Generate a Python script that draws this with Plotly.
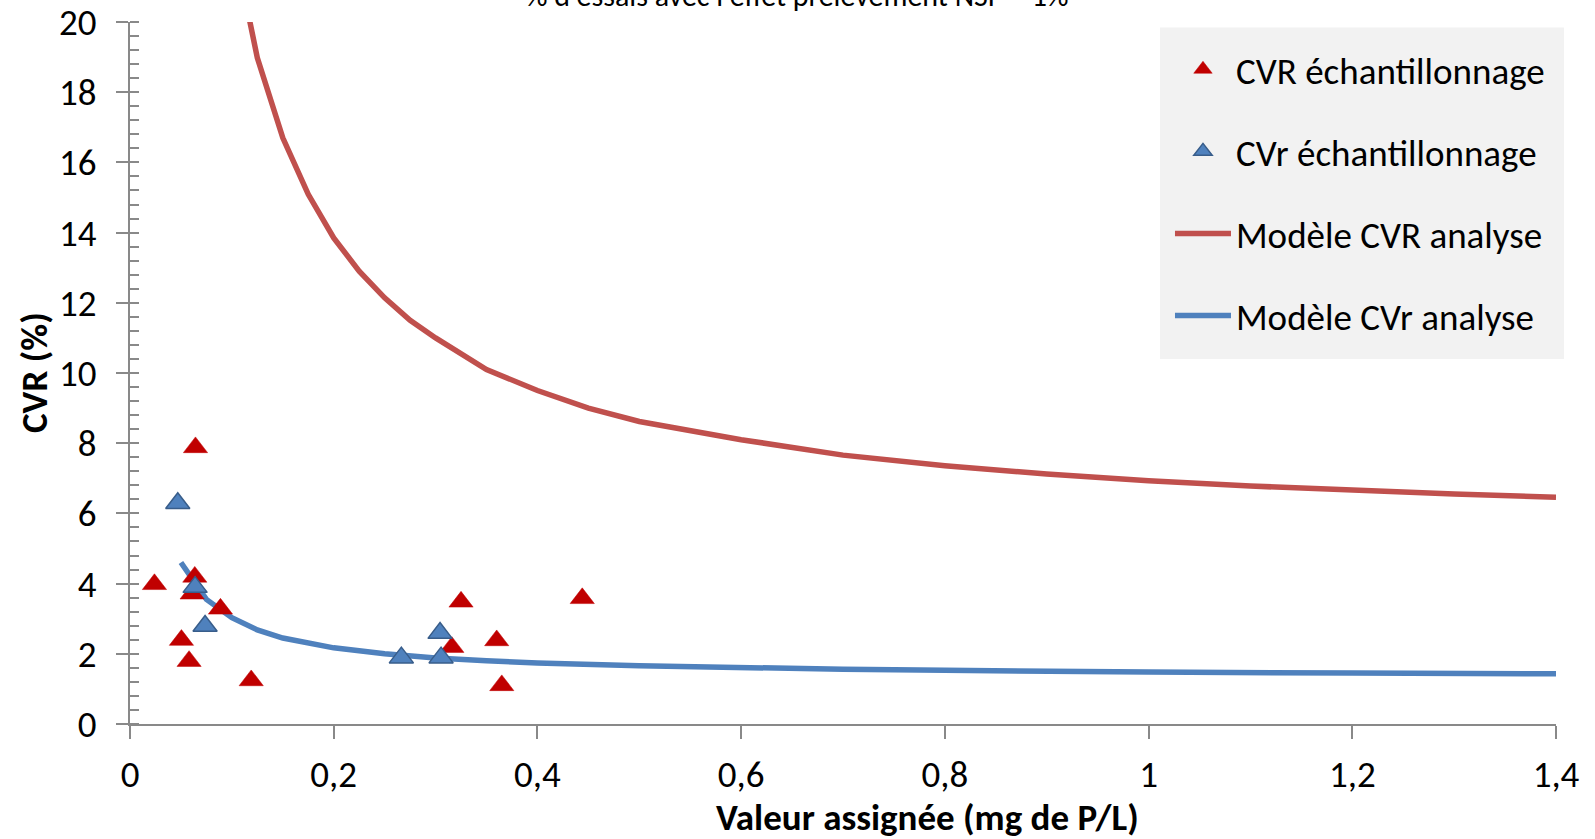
import plotly.graph_objects as go

# Sampling results: assigned value (mg P/L) vs coefficient of variation (%)
cvR_ech_x = [0.024, 0.0643, 0.0505, 0.058, 0.0636, 0.061, 0.0888, 0.119, 0.316, 0.325, 0.360, 0.365, 0.444]
cvR_ech_y = [3.98, 7.88, 2.39, 1.79, 4.19, 3.71, 3.28, 1.24, 2.19, 3.48, 2.38, 1.10, 3.58]

cvr_ech_x = [0.0469, 0.0639, 0.0737, 0.2664, 0.3044, 0.3054]
cvr_ech_y = [6.29, 3.90, 2.79, 1.89, 2.59, 1.89]

# Analysis models
model_R_x = [0.1, 0.125, 0.15, 0.175, 0.2, 0.225, 0.25, 0.275, 0.3, 0.35, 0.4, 0.45, 0.5,
             0.6, 0.7, 0.8, 0.9, 1.0, 1.1, 1.2, 1.3, 1.4]
model_R_y = [22.5, 18.98, 16.7, 15.09, 13.85, 12.9, 12.14, 11.5, 11.0, 10.1, 9.5, 9.0, 8.62,
             8.1, 7.66, 7.36, 7.12, 6.93, 6.78, 6.66, 6.55, 6.46]

model_r_x = [0.05, 0.075, 0.1, 0.125, 0.15, 0.175, 0.2, 0.25, 0.3, 0.35, 0.4, 0.5,
             0.6, 0.7, 0.8, 0.9, 1.0, 1.2, 1.4]
model_r_y = [4.6, 3.55, 3.03, 2.68, 2.45, 2.29, 2.17, 2.0, 1.88, 1.80, 1.74, 1.66,
             1.60, 1.56, 1.53, 1.50, 1.48, 1.45, 1.43]

x_ticks = [0, 0.2, 0.4, 0.6, 0.8, 1.0, 1.2, 1.4]
y_ticks = list(range(0, 21, 2))

FONT = "Carlito, Lato, 'Noto Sans', sans-serif"
AXIS_GREY = "#898989"
FS = 37

fig = go.Figure()

fig.add_trace(go.Scatter(
    x=model_R_x, y=model_R_y, mode="lines", name="Modèle CVR analyse",
    line=dict(color="#c0504d", width=5.5), legendrank=3, legendgroup="g3"))
fig.add_trace(go.Scatter(
    x=model_r_x, y=model_r_y, mode="lines", name="Modèle CVr analyse",
    line=dict(color="#4f81bd", width=5.5), legendrank=4, legendgroup="g4"))
fig.add_trace(go.Scatter(
    x=cvR_ech_x, y=cvR_ech_y, mode="markers", name="CVR échantillonnage",
    marker=dict(symbol="triangle-up", size=21, color="#c00000",
                line=dict(color="#c00000", width=0.5)),
    legendrank=1, legendgroup="g1"))
fig.add_trace(go.Scatter(
    x=cvr_ech_x, y=cvr_ech_y, mode="markers", name="CVr échantillonnage",
    marker=dict(symbol="triangle-up", size=21, color="#4f81bd",
                line=dict(color="#385d8a", width=1.5)),
    legendrank=2, legendgroup="g2"))

fig.update_layout(
    width=1595, height=839,
    margin=dict(l=130, r=39, t=22, b=115, autoexpand=False),
    paper_bgcolor="white", plot_bgcolor="white",
    separators=", ",
    font=dict(family=FONT, size=FS, color="#000000"),
    showlegend=True,
    legend=dict(
        x=0.7293, y=0.9762, xanchor="left", yanchor="top",
        bgcolor="rgba(0,0,0,0)", borderwidth=0,
        font=dict(family=FONT, size=FS, color="#000000"),
        itemwidth=56, tracegroupgap=31, traceorder="grouped",
    ),
    xaxis=dict(
        range=[0, 1.4], tickvals=x_ticks, showgrid=False, zeroline=False,
        showline=True, linecolor=AXIS_GREY, linewidth=2,
        ticks="outside", ticklen=13, tickwidth=2, tickcolor=AXIS_GREY,
        ticklabelstandoff=4, ticklabeloverflow="allow",
        tickfont=dict(family=FONT, size=FS),
    ),
    yaxis=dict(
        range=[0, 20], tickvals=y_ticks, showgrid=False, zeroline=False,
        showline=True, linecolor=AXIS_GREY, linewidth=2,
        ticks="outside", ticklen=12, tickwidth=2, tickcolor=AXIS_GREY,
        ticklabelstandoff=12, ticklabeloverflow="allow",
        tickfont=dict(family=FONT, size=FS),
        minor=dict(dtick=0.4, ticks="inside", ticklen=9, tickwidth=2, tickcolor=AXIS_GREY),
    ),
    yaxis2=dict(
        range=[0, 20], tickvals=y_ticks, overlaying="y", side="left",
        showgrid=False, zeroline=False, showline=False, showticklabels=False,
        ticks="inside", ticklen=9, tickwidth=2, tickcolor=AXIS_GREY,
    ),
    shapes=[dict(
        type="rect", xref="paper", yref="paper",
        x0=0.7223, x1=1.0056, y0=0.5199, y1=0.9922,
        fillcolor="#f2f2f2", line=dict(width=0), layer="below",
    )],
    annotations=[
        dict(text="<b>Valeur assignée (mg de P/L)</b>", xref="paper", yref="paper",
             x=0.559, y=-0.1325, xanchor="center", yanchor="middle", showarrow=False,
             font=dict(family=FONT, size=FS, color="#000000")),
        dict(text="<b>CVR (%)</b>", xref="paper", yref="paper", textangle=-90,
             x=-0.0673, y=0.5, xanchor="center", yanchor="middle", showarrow=False,
             font=dict(family=FONT, size=FS, color="#000000")),
        dict(text="% d'essais avec l'effet prélèvement NSP = 1%", xref="paper", yref="paper",
             x=0.468, y=1.0086, xanchor="center", yanchor="bottom", showarrow=False,
             font=dict(family=FONT, size=30, color="#000000")),
    ],
)

fig.write_html("out.html")
